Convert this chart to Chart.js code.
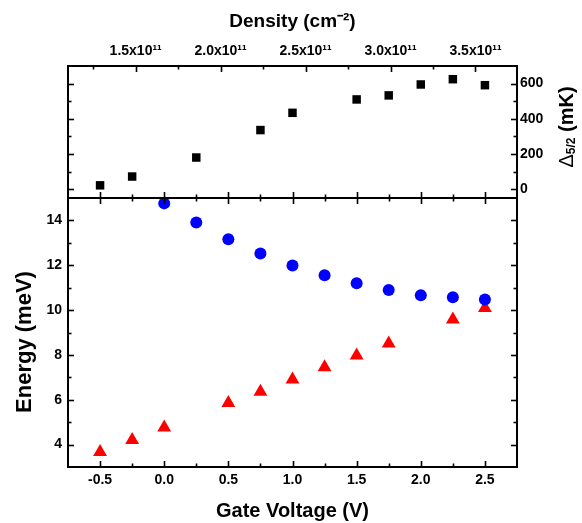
<!DOCTYPE html>
<html>
<head>
<meta charset="utf-8">
<script src="https://cdn.jsdelivr.net/npm/chart.js@4.4.0/dist/chart.umd.min.js"></script>
<style>
  html, body { margin: 0; padding: 0; background: #fff; }
  #wrap { position: relative; width: 582px; height: 523px; }
  #wrap canvas { position: absolute; left: 0; top: 0; }
</style>
</head>
<body>
<div id="wrap">
  <canvas id="bottomChart" width="582" height="523"></canvas>
  <canvas id="topChart" width="582" height="523"></canvas>
</div>
<script>
// gate voltage (V) of each measurement
const gateVoltage = [-0.5, -0.25, 0, 0.25, 0.5, 0.75, 1, 1.25, 1.5, 1.75, 2, 2.25, 2.5];
// Delta 5/2 gap (mK), top panel
const gap52 = [22, 72, null, 180, null, 336, 434, null, 510, 533, 595, 625, 591];
// energies (meV), bottom panel
const energyBlue = [null, null, 14.76, 13.91, 13.16, 12.52, 11.99, 11.55, 11.2, 10.9, 10.66, 10.57, 10.47];
const energyRed = [3.67, 4.21, 4.76, null, 5.85, 6.36, 6.9, 7.45, 7.97, 8.51, null, 9.58, 10.09];

// axis ticks
const voltMajor = [-0.5, 0, 0.5, 1, 1.5, 2, 2.5];
const voltMinor = [-0.25, 0.25, 0.75, 1.25, 1.75, 2.25];
const energyMajor = [4, 6, 8, 10, 12, 14];
const energyMinor = [5, 7, 9, 11, 13];
const gapMajor = [0, 200, 400, 600];
const gapMinor = [100, 300, 500];
const densityMajor = [1.5, 2.0, 2.5, 3.0, 3.5];   // x10^11 cm^-2
const densityMinor = [1.25, 1.75, 2.25, 2.75, 3.25];

// density = n0 + dn * V  (x10^11 cm^-2)
const densityAtZero = 1.668;
const densityPerVolt = 0.755;
const voltMin = -0.75, voltMax = 2.75;

const FONT = '"Liberation Sans", Arial, sans-serif';
const tickFont = { family: FONT, size: 14, weight: 'bold' };

const points = ys => gateVoltage
  .map((v, i) => ({ x: v, y: ys[i] }))
  .filter(p => p.y !== null);

const setTicks = vals => s => { s.ticks = vals.map(v => ({ value: v })); };

// frame + inward Origin style ticks
const frameTicks = {
  id: 'frameTicks',
  afterDraw(chart, args, opts) {
    const { ctx, chartArea: a } = chart;
    ctx.save();
    ctx.strokeStyle = '#000';
    ctx.lineWidth = 1.6;
    opts.sides.forEach(s => {
      const scale = chart.scales[s.scale];
      const draw = (vals, len) => vals.forEach(v => {
        const p = Math.round(scale.getPixelForValue(v)) + 0.5;
        ctx.beginPath();
        if (s.edge === 'top') { ctx.moveTo(p, a.top); ctx.lineTo(p, a.top + len); }
        if (s.edge === 'bottom') { ctx.moveTo(p, a.bottom); ctx.lineTo(p, a.bottom - len); }
        if (s.edge === 'left') { ctx.moveTo(a.left, p); ctx.lineTo(a.left + len, p); }
        if (s.edge === 'right') { ctx.moveTo(a.right, p); ctx.lineTo(a.right - len, p); }
        ctx.stroke();
      });
      draw(s.major, 6);
      draw(s.minor, 3.5);
    });
    ctx.lineWidth = 2;
    ctx.strokeRect(a.left, a.top, a.right - a.left, a.bottom - a.top);
    ctx.restore();
  }
};

// rotated axis titles (read bottom to top), drawn in pieces for the subscript
const sideTitle = {
  id: 'sideTitle',
  afterDraw(chart, args, opts) {
    const { ctx } = chart;
    ctx.save();
    ctx.translate(opts.x, opts.y);
    ctx.rotate(-Math.PI / 2);
    ctx.fillStyle = '#000';
    ctx.textBaseline = 'middle';
    let total = 0;
    opts.parts.forEach(p => { ctx.font = p[1]; total += ctx.measureText(p[0]).width; });
    let x = -total / 2;
    opts.parts.forEach(p => {
      ctx.font = p[1];
      ctx.fillText(p[0], x, p[2]);
      x += ctx.measureText(p[0]).width;
    });
    ctx.restore();
  }
};

const common = {
  responsive: false,
  animation: false,
  devicePixelRatio: 1,
  events: [],
  clip: false
};

const noGrid = { display: false, drawTicks: false };

// Bottom panel: energies vs gate voltage
new Chart(document.getElementById('bottomChart'), {
  type: 'scatter',
  data: {
    datasets: [
      { data: points(energyBlue), pointStyle: 'circle', pointRadius: 6,
        backgroundColor: '#0000ff', borderColor: '#0000ff', borderWidth: 0 },
      { data: points(energyRed), pointStyle: 'triangle', pointRadius: 8,
        backgroundColor: '#ff0000', borderColor: '#ff0000', borderWidth: 0 }
    ]
  },
  options: {
    ...common,
    layout: { padding: { top: 198, right: 65, left: 0, bottom: 0 } },
    plugins: {
      legend: { display: false },
      tooltip: { enabled: false },
      frameTicks: {
        sides: [
          { edge: 'bottom', scale: 'x', major: voltMajor, minor: voltMinor },
          { edge: 'top', scale: 'x', major: voltMajor, minor: voltMinor },
          { edge: 'left', scale: 'y', major: energyMajor, minor: energyMinor },
          { edge: 'right', scale: 'y', major: energyMajor, minor: energyMinor }
        ]
      },
      sideTitle: {
        x: 24.5, y: 342,
        parts: [['Energy (meV)', 'bold 22px ' + FONT, 0]]
      }
    },
    scales: {
      x: {
        type: 'linear', min: voltMin, max: voltMax,
        afterBuildTicks: setTicks(voltMajor),
        afterFit: s => { s.height = 56; },
        grid: noGrid, border: { display: false },
        ticks: { padding: 5, color: '#000', font: tickFont, callback: v => v.toFixed(1) },
        title: { display: true, text: 'Gate Voltage (V)', color: '#000',
                 font: { family: FONT, size: 20, weight: 'bold' }, padding: { top: 0, bottom: 0 } }
      },
      y: {
        type: 'linear', min: 3, max: 15,
        afterBuildTicks: setTicks(energyMajor),
        afterFit: s => { s.width = 68; },
        grid: noGrid, border: { display: false },
        ticks: { padding: 6, color: '#000', font: tickFont, callback: v => String(v) }
      }
    }
  },
  plugins: [frameTicks, sideTitle]
});

// Top panel: Delta 5/2 vs gate voltage, density on top axis
new Chart(document.getElementById('topChart'), {
  type: 'scatter',
  data: {
    datasets: [
      { data: points(gap52), xAxisID: 'x', yAxisID: 'y', pointStyle: 'rect', pointRadius: 6,
        backgroundColor: '#000', borderColor: '#000', borderWidth: 0 }
    ]
  },
  options: {
    ...common,
    layout: { padding: { top: 0, right: 0, left: 68, bottom: 325 } },
    plugins: {
      legend: { display: false },
      tooltip: { enabled: false },
      frameTicks: {
        sides: [
          { edge: 'top', scale: 'xd', major: densityMajor, minor: densityMinor },
          { edge: 'bottom', scale: 'x', major: voltMajor, minor: voltMinor },
          { edge: 'left', scale: 'y', major: gapMajor, minor: gapMinor },
          { edge: 'right', scale: 'y', major: gapMajor, minor: gapMinor }
        ]
      },
      sideTitle: {
        x: 567, y: 127,
        parts: [
          ['Δ', '20px ' + FONT, 0],
          ['5/2', 'bold 12px ' + FONT, 5],
          [' (mK)', 'bold 20px ' + FONT, 0]
        ]
      }
    },
    scales: {
      x: { type: 'linear', display: false, min: voltMin, max: voltMax },
      xd: {
        type: 'linear', position: 'top',
        min: densityAtZero + densityPerVolt * voltMin,
        max: densityAtZero + densityPerVolt * voltMax,
        afterBuildTicks: setTicks(densityMajor),
        afterFit: s => { s.height = 66; },
        grid: noGrid, border: { display: false },
        ticks: { padding: 6, color: '#000', font: tickFont, callback: v => v.toFixed(1) + 'x10¹¹' },
        title: { display: true, text: 'Density (cm⁻²)', color: '#000',
                 font: { family: FONT, size: 19, weight: 'bold' }, padding: { top: 10, bottom: 0 } }
      },
      y: {
        type: 'linear', position: 'right', min: -50, max: 700,
        afterBuildTicks: setTicks(gapMajor),
        afterFit: s => { s.width = 65; },
        grid: noGrid, border: { display: false },
        ticks: { padding: 3, color: '#000', font: tickFont, callback: v => String(v) }
      }
    }
  },
  plugins: [frameTicks, sideTitle]
});
</script>
</body>
</html>
